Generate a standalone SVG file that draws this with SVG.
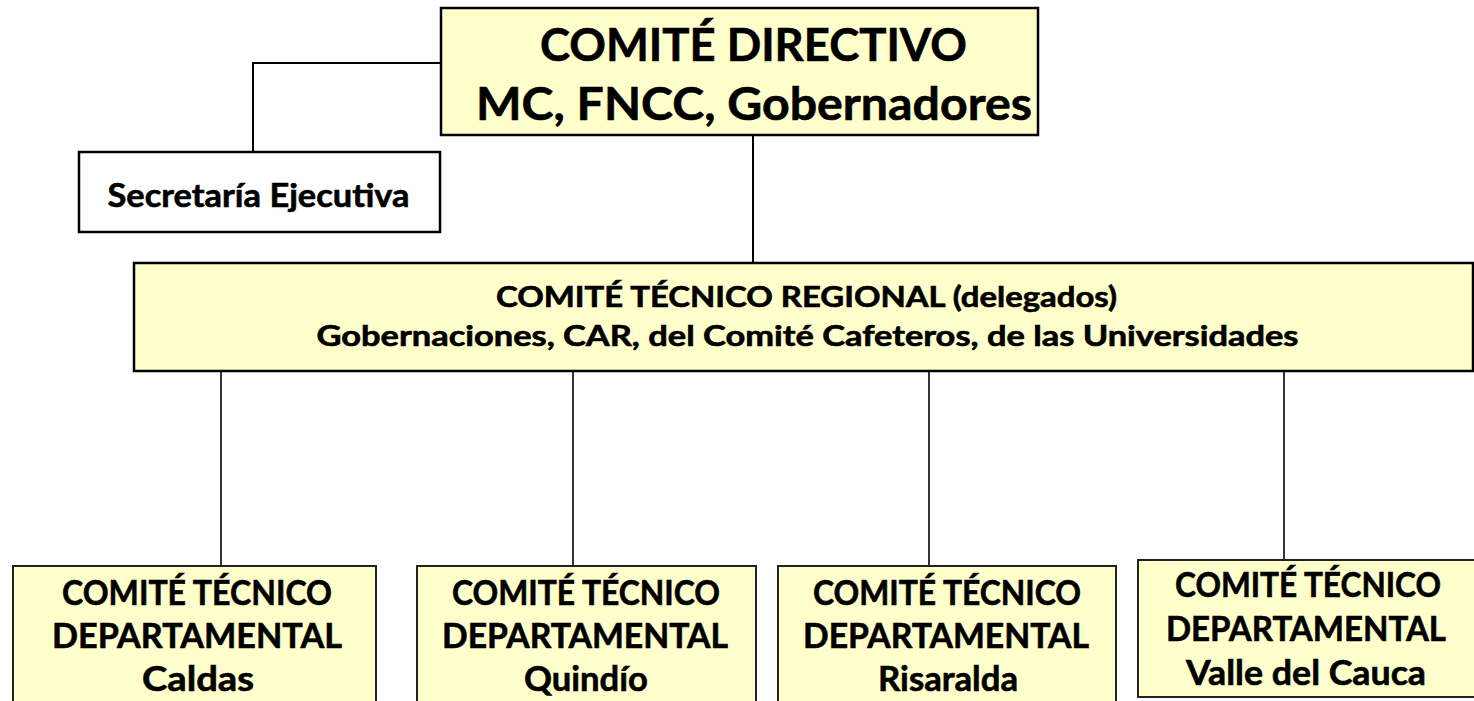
<svg xmlns="http://www.w3.org/2000/svg" width="1474" height="701" viewBox="0 0 1474 701">
<style>
.box{fill:#FFFFCC;stroke:#000;stroke-width:2.5}
.wbox{fill:#FFFFFF;stroke:#000;stroke-width:2.5}
.dbox{fill:#FFFFCC;stroke:#222;stroke-width:2}
.t{font-family:Lato,"Open Sans","Liberation Sans",sans-serif;font-weight:bold;fill:#000;stroke:#000;stroke-width:0.6;text-anchor:middle}
.conn{stroke:#000;fill:none;stroke-width:2}
.conn2{stroke:#000;fill:none;stroke-width:1.6}
</style>
<rect width="1474" height="701" fill="#FFFFFF"/>
<g id="connectors">
<polyline class="conn" points="441,63 253,63 253,151"/>
<line class="conn" x1="753" y1="135" x2="753" y2="263"/>
<line class="conn2" x1="221" y1="371" x2="221" y2="574"/>
<line class="conn2" x1="573" y1="371" x2="573" y2="574"/>
<line class="conn2" x1="929" y1="371" x2="929" y2="566"/>
<line class="conn2" x1="1284" y1="371" x2="1284" y2="567"/>
</g>
<g id="comite-directivo">
<rect class="box" x="441" y="8" width="597" height="127"/>
<text class="t" x="753.5" y="61" font-size="46" textLength="427" lengthAdjust="spacingAndGlyphs">COMITÉ DIRECTIVO</text>
<text class="t" x="754" y="120" font-size="46" textLength="556" lengthAdjust="spacingAndGlyphs">MC, FNCC, Gobernadores</text>
</g>
<g id="secretaria">
<rect class="wbox" x="79" y="152" width="361" height="80"/>
<text class="t" x="258.5" y="207" font-size="32" textLength="302" lengthAdjust="spacingAndGlyphs">Secretaría Ejecutiva</text>
</g>
<g id="comite-regional">
<rect class="box" x="134" y="263" width="1339" height="108"/>
<text class="t" x="806.5" y="307" font-size="28" textLength="621" lengthAdjust="spacingAndGlyphs">COMITÉ TÉCNICO REGIONAL (delegados)</text>
<text class="t" x="807.5" y="346" font-size="28" textLength="982" lengthAdjust="spacingAndGlyphs">Gobernaciones, CAR, del Comité Cafeteros, de las Universidades</text>
</g>
<g id="caldas">
<rect class="dbox" x="13" y="566" width="363" height="150"/>
<text class="t" x="197" y="605" font-size="35" textLength="270" lengthAdjust="spacingAndGlyphs">COMITÉ TÉCNICO</text>
<text class="t" x="197" y="648" font-size="35" textLength="290" lengthAdjust="spacingAndGlyphs">DEPARTAMENTAL</text>
<text class="t" x="198" y="691" font-size="35" textLength="112" lengthAdjust="spacingAndGlyphs">Caldas</text>
</g>
<g id="quindio">
<rect class="dbox" x="417" y="566" width="339" height="150"/>
<text class="t" x="586" y="605" font-size="35" textLength="268" lengthAdjust="spacingAndGlyphs">COMITÉ TÉCNICO</text>
<text class="t" x="585" y="648" font-size="35" textLength="286" lengthAdjust="spacingAndGlyphs">DEPARTAMENTAL</text>
<text class="t" x="586" y="691" font-size="35" textLength="124" lengthAdjust="spacingAndGlyphs">Quindío</text>
</g>
<g id="risaralda">
<rect class="dbox" x="778" y="566" width="338" height="150"/>
<text class="t" x="947" y="605" font-size="35" textLength="268" lengthAdjust="spacingAndGlyphs">COMITÉ TÉCNICO</text>
<text class="t" x="946" y="648" font-size="35" textLength="286" lengthAdjust="spacingAndGlyphs">DEPARTAMENTAL</text>
<text class="t" x="948" y="691" font-size="35" textLength="140" lengthAdjust="spacingAndGlyphs">Risaralda</text>
</g>
<g id="valle">
<rect class="dbox" x="1138" y="560" width="345" height="137"/>
<text class="t" x="1308" y="597" font-size="35" textLength="266" lengthAdjust="spacingAndGlyphs">COMITÉ TÉCNICO</text>
<text class="t" x="1306" y="641" font-size="35" textLength="280" lengthAdjust="spacingAndGlyphs">DEPARTAMENTAL</text>
<text class="t" x="1306" y="685" font-size="35" textLength="240" lengthAdjust="spacingAndGlyphs">Valle del Cauca</text>
</g>
</svg>
